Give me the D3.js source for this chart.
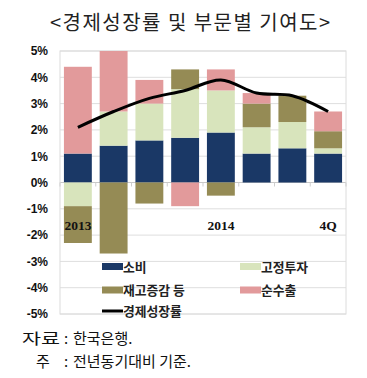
<!DOCTYPE html>
<html><head><meta charset="utf-8">
<script src="https://cdn.jsdelivr.net/npm/d3@7"></script>
<style>body{margin:0;background:#fff;}svg{display:block;font-family:"Noto Sans CJK KR","Noto Sans",sans-serif;}</style>
</head><body><svg id="c" width="367" height="378"></svg>
<script>
const quarters = ["13Q1","13Q2","13Q3","13Q4","14Q1","14Q2","14Q3","14Q4"];
const catLabels = ["2013","","","","2014","","","4Q"];
const consumption = [1.1, 1.4, 1.6, 1.7, 1.9, 1.1, 1.3, 1.1];
const fixedInvest = [-0.9, 1.3, 1.4, 1.85, 1.6, 1.0, 1.0, 0.2];
const inventory = [-1.4, -2.7, -0.8, 0.75, -0.5, 0.9, 1.0, 0.65];
const netExports = [3.3, 2.3, 0.9, -0.9, 0.8, 0.4, 0.0, 0.75];
const growth = [2.1, 2.7, 3.2, 3.5, 3.9, 3.4, 3.3, 2.7];
const yTicks = [-5,-4,-3,-2,-1,0,1,2,3,4,5];
const seriesKeys = ["소비","고정투자","재고증감 등","순수출"];
const seriesColors = ["#1a3866","#d8e4bc","#958b55","#e29a9b"];
const lineName = "경제성장률";
const title = "<경제성장률 및 부문별 기여도>";
const noteLabels = ["자료", "주"];
const noteTexts = ["한국은행.", "전년동기대비 기준."];

const svg = d3.select("#c");
const L = 60, R = 346, T = 51, B = 314;
const x = d3.scaleBand().domain(quarters).range([L, R]).paddingInner(0.22).paddingOuter(0.11);
const y = d3.scaleLinear().domain([-5, 5]).range([B, T]);

const table = quarters.map((q, i) => ({q, "소비": consumption[i], "고정투자": fixedInvest[i], "재고증감 등": inventory[i], "순수출": netExports[i]}));
const stacked = d3.stack().keys(seriesKeys).offset(d3.stackOffsetDiverging)(table);

// title
svg.append("text").attr("x", 50).attr("y", 30)
  .attr("font-size", 20).attr("fill", "#222")
  .attr("textLength", 280).attr("lengthAdjust", "spacing").text(title);

// gridlines
svg.append("g").selectAll("line").data(yTicks).join("line")
  .attr("x1", L).attr("x2", R).attr("y1", d => y(d)).attr("y2", d => y(d))
  .attr("stroke", d => d === 0 ? "#c8c8c8" : "#dedede").attr("stroke-width", 1);
svg.append("rect").attr("x", L).attr("y", T).attr("width", R - L).attr("height", B - T)
  .attr("fill", "none").attr("stroke", "#dcdcdc");

// category ticks on zero line
svg.append("g").selectAll("line").data(d3.range(quarters.length + 1)).join("line")
  .attr("x1", i => L + i * (R - L) / quarters.length).attr("x2", i => L + i * (R - L) / quarters.length)
  .attr("y1", y(0)).attr("y2", y(0) + 4).attr("stroke", "#cfcfcf");

// y axis labels
const yAxis = d3.axisLeft(y).tickValues(yTicks).tickFormat(d => d + "%").tickSize(0).tickPadding(12);
const ya = svg.append("g").attr("transform", `translate(${L},0)`).call(yAxis);
ya.select(".domain").remove();
ya.selectAll("text").attr("font-size", 12).attr("font-weight", "bold").attr("fill", "#111")
  .attr("font-family", "Liberation Sans, Arial, sans-serif");

// bars
svg.append("g").selectAll("g").data(stacked).join("g")
  .attr("fill", (d, i) => seriesColors[i])
  .selectAll("rect").data(d => d).join("rect")
  .attr("x", d => x(d.data.q)).attr("width", x.bandwidth())
  .attr("y", d => y(Math.max(d[0], d[1]))).attr("height", d => Math.abs(y(d[0]) - y(d[1])));

// line
const line = d3.line().x((d, i) => x(quarters[i]) + x.bandwidth() / 2).y(d => y(d)).curve(d3.curveCatmullRom.alpha(0.5));
svg.append("path").datum(growth).attr("d", line).attr("fill", "none")
  .attr("stroke", "#000").attr("stroke-width", 3).attr("stroke-linejoin", "round");

// category labels
svg.append("g").selectAll("text").data(quarters).join("text")
  .attr("x", d => x(d) + x.bandwidth() / 2).attr("y", 230)
  .attr("text-anchor", "middle").attr("font-size", 13.5).attr("font-weight", "bold")
  .attr("font-family", "Liberation Serif, Times New Roman, serif").attr("fill", "#111")
  .text((d, i) => catLabels[i]);

// legend
const legendItems = [
  {name: seriesKeys[0], color: seriesColors[0], lx: 102, ly: 266.5},
  {name: seriesKeys[1], color: seriesColors[1], lx: 240, ly: 266.5},
  {name: seriesKeys[2], color: seriesColors[2], lx: 102, ly: 290},
  {name: seriesKeys[3], color: seriesColors[3], lx: 240, ly: 290}
];
const lg = svg.append("g");
legendItems.forEach(it => {
  lg.append("rect").attr("x", it.lx).attr("y", it.ly - 3.5).attr("width", 21).attr("height", 7).attr("fill", it.color);
  lg.append("text").attr("x", it.lx + 21).attr("y", it.ly + 5).attr("font-size", 12.8).attr("font-weight", "bold")
    .attr("fill", "#222").text(it.name);
});
lg.append("line").attr("x1", 102).attr("x2", 123).attr("y1", 311).attr("y2", 311).attr("stroke", "#000").attr("stroke-width", 3);
lg.append("text").attr("x", 123).attr("y", 316).attr("font-size", 12.8).attr("font-weight", "bold").attr("fill", "#222").text(lineName);

// notes (two lines)
const nb = [344, 367];
const fs = 15;
noteLabels.forEach((lab, i) => {
  const t = svg.append("text").attr("font-size", fs).attr("fill", "#111").attr("y", nb[i]);
  if (i === 0) {
    t.append("tspan").attr("x", 22).attr("textLength", 38).attr("lengthAdjust", "spacingAndGlyphs").text(lab);
  } else {
    t.append("tspan").attr("x", 36).text(lab);
  }
  t.append("tspan").attr("x", 64).text(":");
  t.append("tspan").attr("x", 73).text(noteTexts[i]);
});
</script></body></html>
